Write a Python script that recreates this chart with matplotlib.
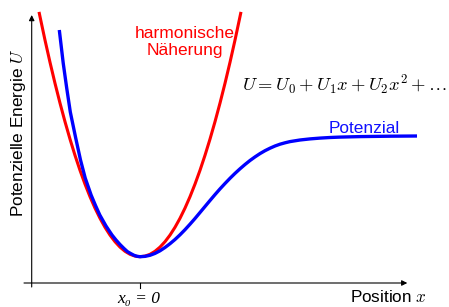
import matplotlib
matplotlib.use("Agg")
import matplotlib.pyplot as plt

plt.rcParams['font.family'] = ['Liberation Sans', 'DejaVu Sans']
plt.rcParams['mathtext.fontset'] = 'cm'

# harmonic approximation (red)
harm_x = [-1.01, -0.95, -0.9, -0.85, -0.8, -0.75, -0.7, -0.65, -0.6, -0.55, -0.5, -0.45,
          -0.4, -0.35, -0.3, -0.25, -0.2, -0.15, -0.1, -0.05, 0.0,
          0.05, 0.1, 0.15, 0.2, 0.25, 0.3, 0.35, 0.4, 0.45, 0.5, 0.55, 0.6, 0.65,
          0.7, 0.75, 0.8, 0.85, 0.9, 0.95, 1.01]
harm_u = [2.711, 2.429, 2.207, 1.997, 1.799, 1.613, 1.439, 1.277, 1.127, 0.989, 0.863, 0.749,
          0.647, 0.557, 0.479, 0.413, 0.359, 0.317, 0.287, 0.269, 0.263,
          0.269, 0.287, 0.317, 0.359, 0.413, 0.479, 0.557, 0.647, 0.749, 0.863, 0.989, 1.127, 1.277,
          1.439, 1.613, 1.799, 1.997, 2.207, 2.429, 2.711]

# potential (blue)
pot_x = [-0.807, -0.768, -0.733, -0.697, -0.643, -0.595, -0.548, -0.489, -0.445, -0.402,
         -0.34, -0.28, -0.24, -0.2, -0.16, -0.125, -0.09, -0.06, -0.03, 0.0,
         0.05, 0.1, 0.15, 0.2, 0.25, 0.3, 0.35, 0.4, 0.45, 0.5, 0.55, 0.6, 0.65, 0.7,
         0.75, 0.8, 0.85, 0.9, 0.95, 1.0, 1.05, 1.1, 1.15, 1.2, 1.25, 1.3, 1.35, 1.4,
         1.45, 1.5, 1.6, 1.7, 1.8, 1.9, 2.0, 2.2, 2.5, 2.77]
pot_u = [2.53, 2.20, 1.95, 1.71, 1.45, 1.23, 1.05, 0.88, 0.775, 0.68,
         0.57, 0.48, 0.43, 0.385, 0.345, 0.313, 0.293, 0.277, 0.267, 0.263,
         0.2665, 0.277, 0.296, 0.322, 0.355, 0.393, 0.435, 0.482, 0.533, 0.588, 0.645, 0.705, 0.765, 0.825,
         0.884, 0.941, 0.995, 1.047, 1.096, 1.142, 1.185, 1.225, 1.261, 1.294, 1.323, 1.348, 1.37, 1.388,
         1.402, 1.414, 1.43, 1.441, 1.449, 1.455, 1.459, 1.464, 1.468, 1.47]

fig = plt.figure(figsize=(4.49, 3.07), dpi=100)
ax = fig.add_axes([0, 0, 1, 1])
ax.set_xlim(-1.40, 3.09)
ax.set_ylim(-0.24, 2.83)
ax.axis("off")

# axes with arrows
arrow = dict(arrowstyle='-|>', color='black', lw=0.8, mutation_scale=8, shrinkA=0, shrinkB=0)
ax.annotate('', xy=(-1.083, 2.68), xytext=(-1.083, -0.04), arrowprops=arrow)
ax.annotate('', xy=(2.673, 0.0), xytext=(-1.16, 0.0), arrowprops=arrow)
ax.plot([0.0, 0.0], [0.0, -0.045], color='black', lw=0.8)

ax.plot(harm_x, harm_u, color='#ff0000', lw=2.2, solid_capstyle='butt', solid_joinstyle='round')
ax.plot(pot_x, pot_u, color='#0000ff', lw=2.4, solid_capstyle='butt', solid_joinstyle='round')

ax.text(0.45, 2.41, 'harmonische\nNäherung', color='#ff0000', fontsize=12.5,
        ha='center', va='center', linespacing=1.15)
ax.text(1.02, 1.923, r'$U = U_0 + U_1 x + U_2 x^2 + \ldots$', fontsize=13.3,
        ha='left', va='baseline')
ax.text(1.89, 1.503, 'Potenzial', color='#1010ff', fontsize=12.4,
        ha='left', va='baseline')
ax.text(-1.21, 1.5, r'Potenzielle Energie $U$', fontsize=12.4, rotation=90,
        ha='center', va='center')
ax.text(2.87, -0.195, r'Position $x$', fontsize=12.3, ha='right', va='baseline')
ax.text(-0.01, -0.2, 'x₀ = 0', fontsize=12.5, ha='center', va='baseline',
        family=['Liberation Serif', 'DejaVu Serif'], style='italic')

fig.savefig('out.png', dpi=100)
